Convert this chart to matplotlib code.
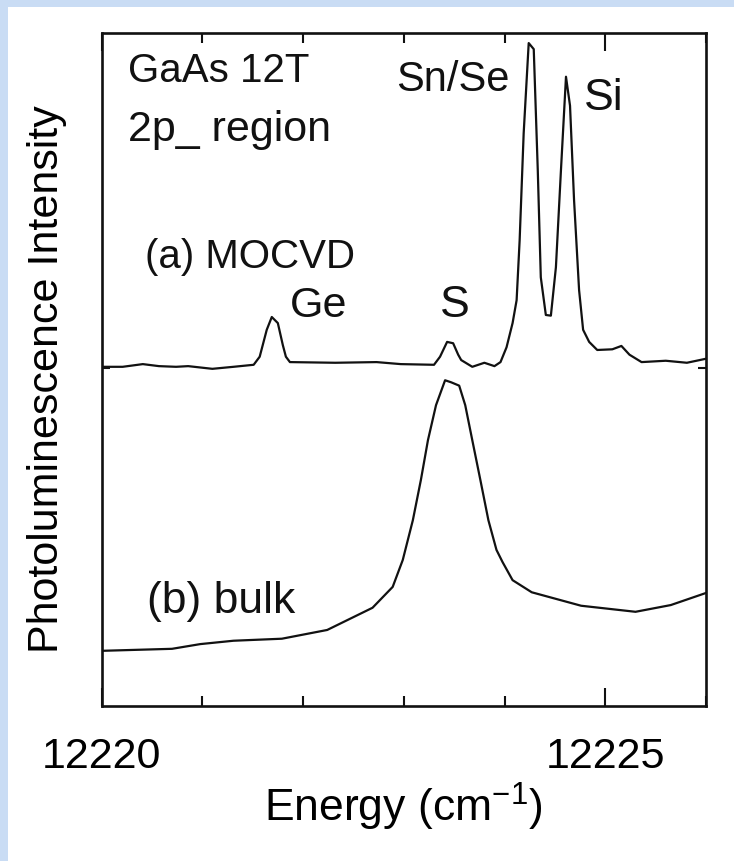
import matplotlib
matplotlib.use("Agg")
import matplotlib.pyplot as plt
from matplotlib import font_manager
from matplotlib.patches import Rectangle
from matplotlib.ticker import MultipleLocator, FixedLocator, NullFormatter, FormatStrFormatter

# trace (a) MOCVD, offset up by ~50 units
energy_a = [12220.00, 12220.21, 12220.41, 12220.57, 12220.74, 12220.86, 12221.10,
            12221.31, 12221.51, 12221.57, 12221.64, 12221.69, 12221.75, 12221.80,
            12221.83, 12221.87, 12222.32, 12222.73, 12222.97, 12223.30, 12223.36,
            12223.43, 12223.49, 12223.54, 12223.57, 12223.68, 12223.80, 12223.90,
            12223.96, 12224.02, 12224.08, 12224.12, 12224.15, 12224.19, 12224.24,
            12224.29, 12224.33, 12224.36, 12224.41, 12224.46, 12224.51, 12224.56,
            12224.61, 12224.65, 12224.69, 12224.74, 12224.78, 12224.84, 12224.92,
            12225.07, 12225.16, 12225.24, 12225.36, 12225.60, 12225.81, 12226.00]
intens_a = [50.4, 50.4, 50.8, 50.5, 50.4, 50.5, 50.1,
            50.4, 50.7, 51.9, 55.9, 57.8, 56.9, 53.6,
            51.9, 51.1, 51.0, 51.1, 50.8, 50.7, 51.9,
            54.1, 53.9, 52.2, 51.4, 50.4, 51.0, 50.5,
            51.1, 53.3, 56.9, 60.3, 69.2, 85.1, 98.5,
            97.6, 79.6, 63.7, 58.1, 58.0, 65.2, 79.6,
            93.5, 89.2, 75.2, 61.8, 55.9, 54.1, 52.9,
            53.0, 53.5, 52.2, 51.1, 51.3, 51.0, 51.6]

# trace (b) bulk
energy_b = [12220.00, 12220.70, 12220.98, 12221.31, 12221.79, 12222.24, 12222.69,
            12222.89, 12222.99, 12223.09, 12223.17, 12223.24, 12223.32, 12223.41,
            12223.47, 12223.55, 12223.61, 12223.68, 12223.76, 12223.84, 12223.92,
            12223.98, 12224.08, 12224.27, 12224.76, 12225.30, 12225.65, 12226.00]
intens_b = [8.2, 8.5, 9.2, 9.7, 10.0, 11.3, 14.6,
            17.7, 21.7, 27.6, 33.6, 39.5, 44.7, 48.4,
            48.1, 47.6, 44.7, 39.5, 33.6, 27.6, 23.2,
            21.4, 18.7, 16.9, 14.9, 14.0, 15.0, 16.8]

baseline_a = 50.2
peak_labels = ["Ge", "S", "Sn/Se", "Si"]


def pick_font():
    for name in ["Liberation Sans Narrow", "Liberation Sans"]:
        try:
            font_manager.findfont(name, fallback_to_default=False)
            return name
        except ValueError:
            pass
    return "DejaVu Sans"


font = pick_font()
plt.rcParams["font.family"] = [font, "DejaVu Sans"]
plt.rcParams["mathtext.default"] = "regular"

ink = "#111111"
fig = plt.figure(figsize=(7.34, 8.61), dpi=100, facecolor="#c9dcf4")
# white page over the blue scan background
fig.patches.append(Rectangle((8 / 734, 0), 1, 1 - 7 / 861, transform=fig.transFigure,
                             facecolor="white", edgecolor="none", zorder=-10))

ax = fig.add_axes([0.1383, 0.1800, 0.8236, 0.7817])
ax.set_facecolor("white")
ax.plot(energy_a, intens_a, color=ink, lw=1.6, solid_joinstyle="round")
ax.plot(energy_b, intens_b, color=ink, lw=1.6, solid_joinstyle="round")

ax.set_xlim(12220, 12226)
ax.set_ylim(0, 100)
for s in ax.spines.values():
    s.set_linewidth(1.9)
    s.set_color(ink)

ax.xaxis.set_major_locator(MultipleLocator(5))
ax.xaxis.set_minor_locator(MultipleLocator(1))
ax.xaxis.set_major_formatter(FormatStrFormatter("%d"))
ax.tick_params(axis="x", which="major", direction="in", top=True, length=13,
               width=1.5, color=ink, labelsize=31, pad=22)
ax.tick_params(axis="x", which="minor", direction="in", top=True, length=7.5,
               width=1.5, color=ink)
ax.yaxis.set_major_locator(FixedLocator([baseline_a]))
ax.yaxis.set_major_formatter(NullFormatter())
ax.tick_params(axis="y", direction="in", right=True, length=6, width=1.5, color=ink)

ax.set_xlabel("Energy (cm$^{-1}$)", fontsize=32, labelpad=3)
ax.set_ylabel("Photoluminescence Intensity", fontsize=31)
ax.yaxis.set_label_coords(-0.057, 0.485)

tkw = dict(transform=ax.transAxes, color=ink, ha="left", va="baseline")
ax.text(0.044, 0.927, "GaAs 12T", fontsize=29, **tkw)
ax.text(0.044, 0.840, "2p_ region", fontsize=31, **tkw)
ax.text(0.072, 0.651, "(a) MOCVD", fontsize=29, **tkw)
ax.text(0.075, 0.138, "(b) bulk", fontsize=32, **tkw)
ax.text(0.312, 0.578, peak_labels[0], fontsize=31, **tkw)
ax.text(0.560, 0.578, peak_labels[1], fontsize=32, **tkw)
ax.text(0.487, 0.914, peak_labels[2], fontsize=30, **tkw)
ax.text(0.798, 0.886, peak_labels[3], fontsize=32, **tkw)

fig.savefig("out.png", dpi=100, facecolor=fig.get_facecolor())
